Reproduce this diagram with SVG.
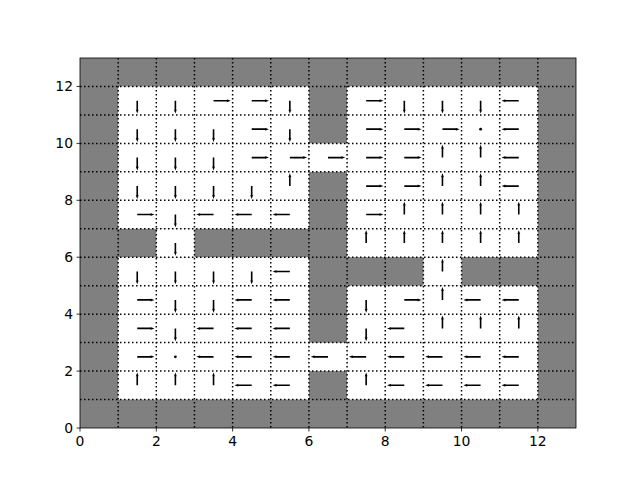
<svg xmlns="http://www.w3.org/2000/svg" width="640" height="480" viewBox="0 0 640 480">
<style>
.grid{stroke:#000;stroke-width:1.5;stroke-dasharray:1.5 2.5;fill:none}
.free{fill:#fff}
.arr{fill:#000}
.tick{stroke:#000;stroke-width:0.8}
.lbl{font-family:"DejaVu Sans",sans-serif;font-size:13.9px;fill:#000}
</style>
<defs>
<path id="R" d="M0,-0.8 H13.6 L13.2,-1.5 L17.2,0 L13.2,1.5 L13.6,0.8 H0 Z"/>
<path id="L" d="M0,-0.8 H-13.6 L-13.2,-1.5 L-17.2,0 L-13.2,1.5 L-13.6,0.8 H0 Z"/>
<path id="U" d="M-0.8,0 V-9.2 L-1.5,-8.8 L0,-12.8 L1.5,-8.8 L0.8,-9.2 V0 Z"/>
<path id="D" d="M-0.8,0 V9.2 L-1.5,8.8 L0,12.8 L1.5,8.8 L0.8,9.2 V0 Z"/>
<circle id="G" r="1.4"/>
</defs>
<rect width="640" height="480" fill="#fff"/>
<g id="cells">
<rect x="80" y="58" width="496" height="370" fill="#808080"/>
<rect class="free" x="118.15" y="86.46" width="190.77" height="142.31"/>
<rect class="free" x="156.31" y="228.77" width="38.15" height="28.46"/>
<rect class="free" x="118.15" y="257.23" width="190.77" height="142.31"/>
<rect class="free" x="347.08" y="86.46" width="190.77" height="170.77"/>
<rect class="free" x="423.38" y="257.23" width="38.16" height="28.46"/>
<rect class="free" x="347.08" y="285.69" width="190.77" height="113.85"/>
<rect class="free" x="308.92" y="143.38" width="38.16" height="28.47"/>
<rect class="free" x="308.92" y="342.62" width="38.16" height="28.46"/>
</g>
<g id="gridlines" class="grid">
<path d="M118.15,58V428M156.31,58V428M194.46,58V428M232.62,58V428M270.77,58V428M308.92,58V428M347.08,58V428M385.23,58V428M423.38,58V428M461.54,58V428M499.69,58V428M537.85,58V428"/>
<path d="M80,399.54H576M80,371.08H576M80,342.62H576M80,314.15H576M80,285.69H576M80,257.23H576M80,228.77H576M80,200.31H576M80,171.85H576M80,143.38H576M80,114.92H576M80,86.46H576"/>
</g>
<g id="arrows" class="arr">
<!-- row 11 -->
<use href="#D" x="137.23" y="100.69"/><use href="#D" x="175.38" y="100.69"/><use href="#R" x="213.54" y="100.69"/><use href="#R" x="251.69" y="100.69"/><use href="#D" x="289.85" y="100.69"/>
<use href="#R" x="366.15" y="100.69"/><use href="#D" x="404.31" y="100.69"/><use href="#D" x="442.46" y="100.69"/><use href="#D" x="480.62" y="100.69"/><use href="#L" x="518.77" y="100.69"/>
<!-- row 10 -->
<use href="#D" x="137.23" y="129.15"/><use href="#D" x="175.38" y="129.15"/><use href="#D" x="213.54" y="129.15"/><use href="#R" x="251.69" y="129.15"/><use href="#D" x="289.85" y="129.15"/>
<use href="#R" x="366.15" y="129.15"/><use href="#R" x="404.31" y="129.15"/><use href="#R" x="442.46" y="129.15"/><use href="#G" x="480.62" y="129.15"/><use href="#L" x="518.77" y="129.15"/>
<!-- row 9 -->
<use href="#D" x="137.23" y="157.62"/><use href="#D" x="175.38" y="157.62"/><use href="#D" x="213.54" y="157.62"/><use href="#R" x="251.69" y="157.62"/><use href="#R" x="289.85" y="157.62"/><use href="#R" x="328" y="157.62"/>
<use href="#R" x="366.15" y="157.62"/><use href="#R" x="404.31" y="157.62"/><use href="#U" x="442.46" y="157.62"/><use href="#U" x="480.62" y="157.62"/><use href="#L" x="518.77" y="157.62"/>
<!-- row 8 -->
<use href="#D" x="137.23" y="186.08"/><use href="#D" x="175.38" y="186.08"/><use href="#D" x="213.54" y="186.08"/><use href="#D" x="251.69" y="186.08"/><use href="#U" x="289.85" y="186.08"/>
<use href="#R" x="366.15" y="186.08"/><use href="#R" x="404.31" y="186.08"/><use href="#U" x="442.46" y="186.08"/><use href="#U" x="480.62" y="186.08"/><use href="#L" x="518.77" y="186.08"/>
<!-- row 7 -->
<use href="#R" x="137.23" y="214.54"/><use href="#D" x="175.38" y="214.54"/><use href="#L" x="213.54" y="214.54"/><use href="#L" x="251.69" y="214.54"/><use href="#L" x="289.85" y="214.54"/>
<use href="#R" x="366.15" y="214.54"/><use href="#U" x="404.31" y="214.54"/><use href="#U" x="442.46" y="214.54"/><use href="#U" x="480.62" y="214.54"/><use href="#U" x="518.77" y="214.54"/>
<!-- row 6 -->
<use href="#D" x="175.38" y="243"/>
<use href="#U" x="366.15" y="243"/><use href="#U" x="404.31" y="243"/><use href="#U" x="442.46" y="243"/><use href="#U" x="480.62" y="243"/><use href="#U" x="518.77" y="243"/>
<!-- row 5 -->
<use href="#D" x="137.23" y="271.46"/><use href="#D" x="175.38" y="271.46"/><use href="#D" x="213.54" y="271.46"/><use href="#D" x="251.69" y="271.46"/><use href="#L" x="289.85" y="271.46"/>
<use href="#U" x="442.46" y="271.46"/>
<!-- row 4 -->
<use href="#R" x="137.23" y="299.92"/><use href="#D" x="175.38" y="299.92"/><use href="#D" x="213.54" y="299.92"/><use href="#L" x="251.69" y="299.92"/><use href="#L" x="289.85" y="299.92"/>
<use href="#D" x="366.15" y="299.92"/><use href="#R" x="404.31" y="299.92"/><use href="#U" x="442.46" y="299.92"/><use href="#L" x="480.62" y="299.92"/><use href="#L" x="518.77" y="299.92"/>
<!-- row 3 -->
<use href="#R" x="137.23" y="328.38"/><use href="#D" x="175.38" y="328.38"/><use href="#L" x="213.54" y="328.38"/><use href="#L" x="251.69" y="328.38"/><use href="#L" x="289.85" y="328.38"/>
<use href="#D" x="366.15" y="328.38"/><use href="#L" x="404.31" y="328.38"/><use href="#U" x="442.46" y="328.38"/><use href="#U" x="480.62" y="328.38"/><use href="#U" x="518.77" y="328.38"/>
<!-- row 2 -->
<use href="#R" x="137.23" y="356.85"/><use href="#G" x="175.38" y="356.85"/><use href="#L" x="213.54" y="356.85"/><use href="#L" x="251.69" y="356.85"/><use href="#L" x="289.85" y="356.85"/><use href="#L" x="328" y="356.85"/>
<use href="#L" x="366.15" y="356.85"/><use href="#L" x="404.31" y="356.85"/><use href="#L" x="442.46" y="356.85"/><use href="#L" x="480.62" y="356.85"/><use href="#L" x="518.77" y="356.85"/>
<!-- row 1 -->
<use href="#U" x="137.23" y="385.31"/><use href="#U" x="175.38" y="385.31"/><use href="#U" x="213.54" y="385.31"/><use href="#L" x="251.69" y="385.31"/><use href="#L" x="289.85" y="385.31"/>
<use href="#U" x="366.15" y="385.31"/><use href="#L" x="404.31" y="385.31"/><use href="#L" x="442.46" y="385.31"/><use href="#L" x="480.62" y="385.31"/><use href="#L" x="518.77" y="385.31"/>
</g>
<rect x="80" y="58" width="496" height="370" fill="none" stroke="#000" stroke-width="0.8"/>
<g id="xaxis">
<path class="tick" d="M80,428v3.5M156.31,428v3.5M232.62,428v3.5M308.92,428v3.5M385.23,428v3.5M461.54,428v3.5M537.85,428v3.5"/>
<g class="lbl" text-anchor="middle">
<text x="80" y="446">0</text><text x="156.31" y="446">2</text><text x="232.62" y="446">4</text><text x="308.92" y="446">6</text><text x="385.23" y="446">8</text><text x="461.54" y="446">10</text><text x="537.85" y="446">12</text>
</g>
</g>
<g id="yaxis">
<path class="tick" d="M80,428h-3.5M80,371.08h-3.5M80,314.15h-3.5M80,257.23h-3.5M80,200.31h-3.5M80,143.38h-3.5M80,86.46h-3.5"/>
<g class="lbl" text-anchor="end">
<text x="73" y="433">0</text><text x="73" y="376.08">2</text><text x="73" y="319.15">4</text><text x="73" y="262.23">6</text><text x="73" y="205.31">8</text><text x="73" y="148.38">10</text><text x="73" y="91.46">12</text>
</g>
</g>
</svg>
